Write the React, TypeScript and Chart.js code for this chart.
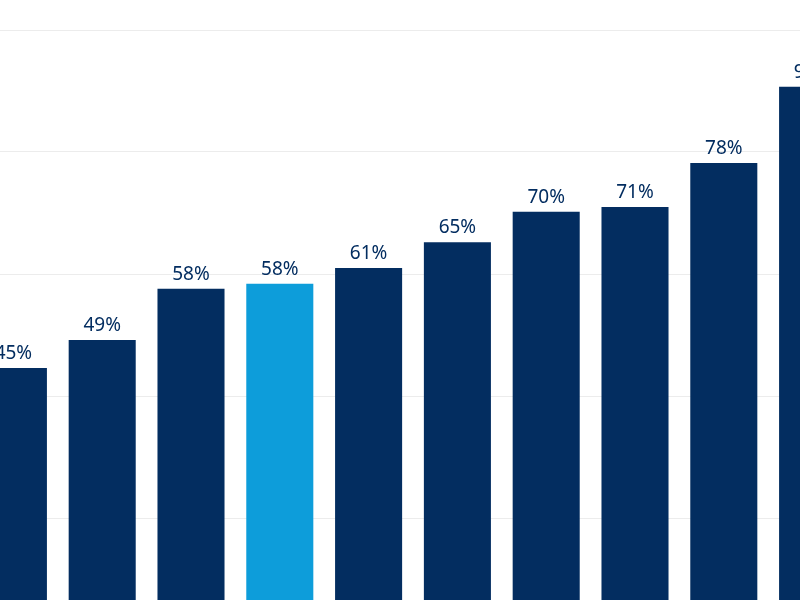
import React, { useEffect, useRef } from "react";
import { Chart, registerables } from "chart.js";

Chart.register(...registerables);

const categories = ["C1", "C2", "C3", "C4", "C5", "C6", "C7", "C8", "C9", "C10"];
const values = [44.6, 49.2, 57.6, 58.4, 61.0, 65.2, 70.2, 71.0, 78.2, 90.7];
const highlightIndex = 3;

const NAVY = "#032D60";
const BLUE = "#0D9DDA";

const labelPlugin = {
  id: "barLabels",
  afterDatasetsDraw(chart: any) {
    const ctx = chart.ctx;
    const meta = chart.getDatasetMeta(0);
    ctx.save();
    ctx.font = "19px 'Noto Sans', 'Open Sans', sans-serif";
    ctx.fillStyle = NAVY;
    ctx.textAlign = "center";
    ctx.textBaseline = "bottom";
    meta.data.forEach((bar: any, i: number) => {
      ctx.fillText(Math.round(values[i]) + "%", bar.x, bar.y - 5);
    });
    ctx.restore();
  },
};

export default function App() {
  const ref = useRef<HTMLCanvasElement>(null);
  useEffect(() => {
    if (!ref.current) return;
    const chart = new Chart(ref.current, {
      type: "bar",
      data: {
        labels: categories,
        datasets: [
          {
            data: values,
            backgroundColor: values.map((_, i) => (i === highlightIndex ? BLUE : NAVY)),
            barPercentage: 0.755,
            categoryPercentage: 1,
            borderWidth: 0,
          },
        ],
      },
      options: {
        responsive: false,
        animation: false,
        layout: { padding: { top: 30, left: 0, right: 0, bottom: 0 } },
        plugins: { legend: { display: false }, tooltip: { enabled: false } },
        scales: {
          x: { display: false, grid: { display: false } },
          y: {
            min: 0,
            max: 100,
            ticks: { display: false, stepSize: 20 },
            grid: { color: "#ececec", lineWidth: 1, drawTicks: false },
            border: { display: false },
          },
        },
      },
      plugins: [labelPlugin],
    });
    return () => chart.destroy();
  }, []);
  return (
    <div
      style={{
        position: "fixed",
        top: 0,
        left: 0,
        width: 800,
        height: 600,
        overflow: "hidden",
        background: "#fff",
      }}
    >
      <canvas
        ref={ref}
        width={888}
        height={640}
        style={{ position: "absolute", left: -31, top: 0, width: 888, height: 640 }}
      />
    </div>
  );
}
